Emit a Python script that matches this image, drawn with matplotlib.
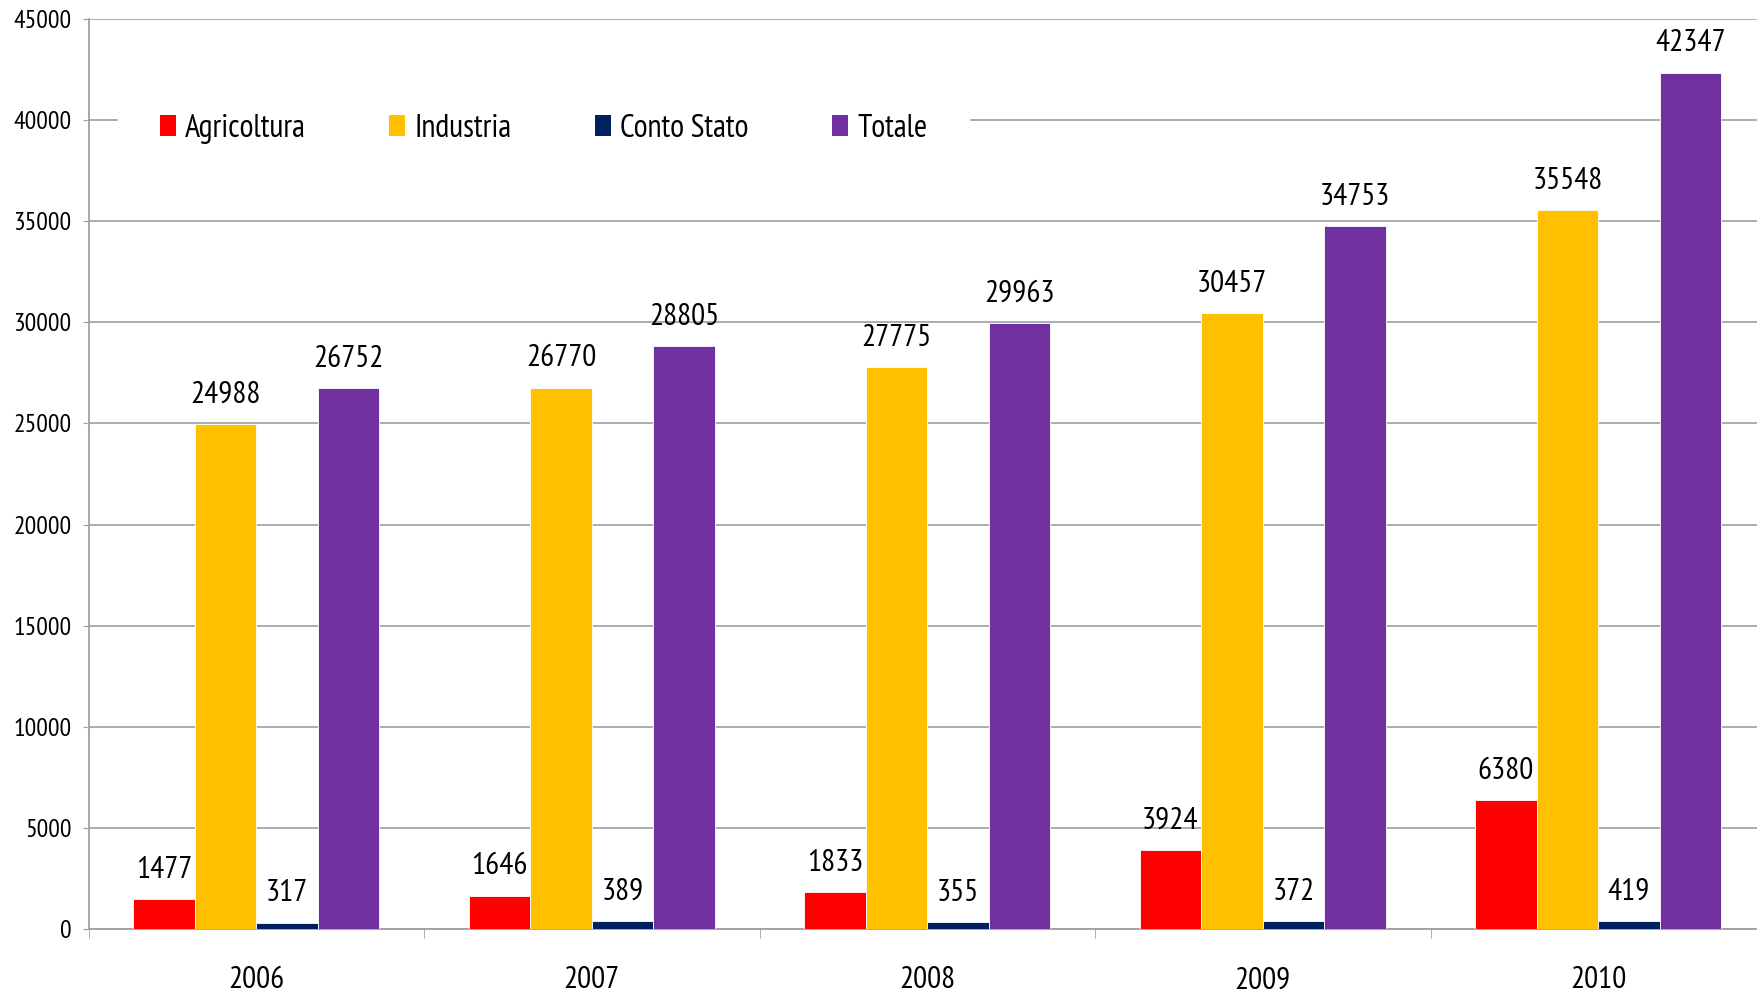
import matplotlib
matplotlib.use("Agg")
import matplotlib.pyplot as plt
import numpy as np
from matplotlib.patches import Patch

plt.rcParams["font.family"] = ["PT Sans Narrow", "DejaVu Sans"]

anni = ["2006", "2007", "2008", "2009", "2010"]
agricoltura = [1477, 1646, 1833, 3924, 6380]
industria = [24988, 26770, 27775, 30457, 35548]
conto_stato = [317, 389, 355, 372, 419]
totale = [26752, 28805, 29963, 34753, 42347]

serie = [
    ("Agricoltura", agricoltura, "#FF0000"),
    ("Industria", industria, "#FFC000"),
    ("Conto Stato", conto_stato, "#002060"),
    ("Totale", totale, "#7030A0"),
]

fig = plt.figure(figsize=(17.57, 9.92), dpi=100)
ax = fig.add_axes([88.5 / 1757, 1 - 929 / 992, (1766 - 88.5) / 1757, (929 - 19) / 992])

x = np.arange(len(anni))
w = 0.1835
for i, (nome, valori, colore) in enumerate(serie):
    pos = x + (i - 1.5) * w
    ax.bar(pos, valori, width=w, color=colore, edgecolor="white", linewidth=0.6, zorder=3)
    for xp, v in zip(pos, valori):
        ax.annotate(str(v), (xp, v), xytext=(0, 11), textcoords="offset points",
                    ha="center", va="bottom", fontsize=22.5, color="black")

ax.set_xlim(-0.5, len(anni) - 0.5)
ax.set_ylim(0, 45000)
ax.set_yticks(np.arange(0, 45001, 5000))
ax.tick_params(axis="y", labelsize=18.5, length=4.3, color="#A0A0A0", pad=8)

ax.set_xticks(x)
ax.set_xticklabels(anni)
ax.set_xticks(np.arange(-0.5, len(anni)), minor=True)
ax.tick_params(axis="x", which="major", length=0, labelsize=22.5, pad=27)
ax.tick_params(axis="x", which="minor", length=6.5, color="#A0A0A0")

ax.grid(axis="y", color="#A6A6A6", linewidth=1.3, zorder=0)
for s in ["top", "right"]:
    ax.spines[s].set_visible(False)
for s in ["left", "bottom"]:
    ax.spines[s].set_color("#A0A0A0")
    ax.spines[s].set_linewidth(1.3)

handles = [Patch(facecolor=c, edgecolor="none") for _, _, c in serie]
leg = ax.legend(handles, [n for n, _, _ in serie], ncol=4, loc="center left",
                bbox_to_anchor=(118 / 1757, 1 - 129 / 992), bbox_transform=fig.transFigure,
                fontsize=23, frameon=True, facecolor="white", edgecolor="white", framealpha=1,
                fancybox=False, handlelength=0.5, handleheight=0.65, handletextpad=0.3,
                columnspacing=2.6, borderpad=1.3, borderaxespad=0)
leg.set_zorder(5)

fig.savefig("out.png", dpi=100)
